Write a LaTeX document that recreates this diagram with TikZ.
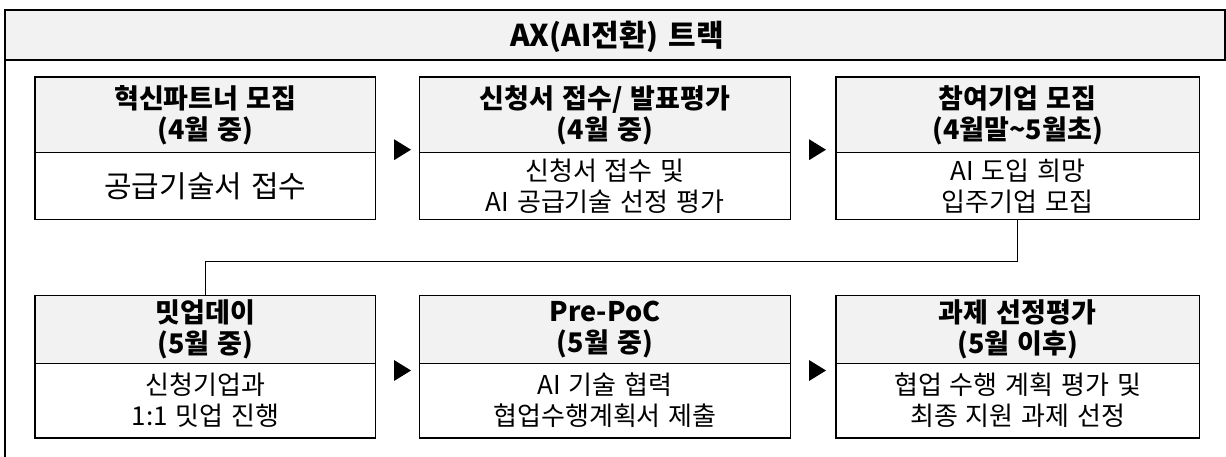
\documentclass[tikz,border=0pt]{standalone}
\usepackage{fontspec}
\setmainfont{Noto Sans CJK KR}[WordSpace=1.35]
\newfontfamily\titlefont{Noto Sans CJK KR Black}[WordSpace=1.4]
\definecolor{hdrgray}{HTML}{F2F2F2}
\begin{document}
\begin{tikzpicture}[x=1pt,y=-1pt,
  frame/.style={draw=black, line width=1.1pt},
  hdr/.style={draw=black, line width=1.1pt, fill=hdrgray, inner sep=0pt, align=center,
    font=\fontsize{27}{31}\selectfont\bfseries},
  body/.style={draw=black, line width=1.1pt, fill=white, inner sep=0pt, align=center,
    font=\fontsize{26}{31}\selectfont},
  link/.style={draw=black, line width=0.9pt},
  tip/.style={fill=black}
]
\useasboundingbox (0,0) rectangle (1226,456);
% outer frame
\draw[frame, fill=hdrgray] (5,10) rectangle (1225,60);
\draw[frame] (5,60) -- (5,470);
\node[font=\titlefont\fontsize{30}{34}\selectfont] (title) at (617,37) {AX(AI전환) 트랙};

% row 1
\node[hdr, minimum width=340.7pt, minimum height=75.7pt] (h1) at (205.35,114.85) {혁신파트너 모집\\(4월 중)};
\node[body, minimum width=340.7pt, minimum height=66.6pt, font=\fontsize{30}{33}\selectfont] (b1) at (205.35,186) {공급기술서 접수};
\node[hdr, minimum width=371.4pt, minimum height=75.7pt] (h2) at (605,114.85) {신청서 접수/ 발표평가\\(4월 중)};
\node[body, minimum width=371.4pt, minimum height=66.6pt] (b2) at (605,186) {신청서 접수 및\\AI 공급기술 선정 평가};
\node[hdr, minimum width=363.3pt, minimum height=75.7pt] (h3) at (1017.65,114.85) {참여기업 모집\\(4월말\textasciitilde5월초)};
\node[body, minimum width=363.3pt, minimum height=66.6pt] (b3) at (1017.65,186) {AI 도입 희망\\입주기업 모집};

% row 2
\node[hdr, minimum width=340.7pt, minimum height=67.6pt] (h4) at (205.35,329.5) {밋업데이\\(5월 중)};
\node[body, minimum width=340.7pt, minimum height=74.7pt] (b4) at (205.35,400.65) {신청기업과\\1:1 밋업 진행};
\node[hdr, minimum width=371.4pt, minimum height=67.6pt] (h5) at (605,329.5) {Pre-PoC\\(5월 중)};
\node[body, minimum width=371.4pt, minimum height=74.7pt] (b5) at (605,400.65) {AI 기술 협력\\협업수행계획서 제출};
\node[hdr, minimum width=363.3pt, minimum height=67.6pt] (h6) at (1017.65,329.5) {과제 선정평가\\(5월 이후)};
\node[body, minimum width=363.3pt, minimum height=74.7pt] (b6) at (1017.65,400.65) {협업 수행 계획 평가 및\\최종 지원 과제 선정};

% arrows (triangles between boxes)
\coordinate (a1) at (402.5,149.7);
\coordinate (a2) at (817.5,149.7);
\coordinate (a3) at (402.5,370.5);
\coordinate (a4) at (817.5,370.5);
\foreach \a in {a1,a2,a3,a4}
  \fill[tip] (\a) ++(-8.5,-10.5) -- ++(17,10.5) -- ++(-17,10.5) -- cycle;

% connector from row 1 to row 2
\draw[link] (b3.south) -- (b3.south |- 0,261.7) -| (h4.north);
\end{tikzpicture}
\end{document}
